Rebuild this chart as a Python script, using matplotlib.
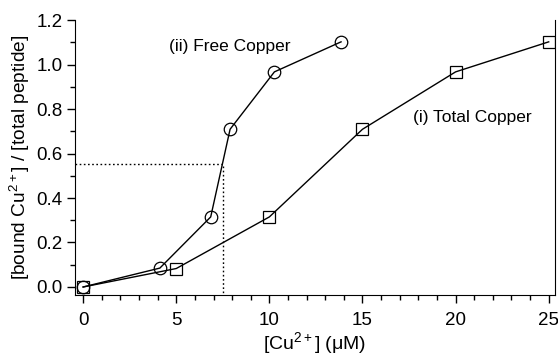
import matplotlib
matplotlib.use("Agg")
import matplotlib.pyplot as plt
from matplotlib.ticker import MultipleLocator, FormatStrFormatter

plt.rcParams['font.family'] = ['Liberation Sans', 'DejaVu Sans']
plt.rcParams['mathtext.fontset'] = 'custom'
plt.rcParams['mathtext.rm'] = 'Liberation Sans'
plt.rcParams['mathtext.it'] = 'Liberation Sans'

free_x = [0, 4.12, 6.85, 7.89, 10.27, 13.85]
free_y = [0, 0.085, 0.315, 0.709, 0.967, 1.102]
total_x = [0, 5, 10, 15, 20, 25]
total_y = [0, 0.083, 0.315, 0.709, 0.967, 1.102]
half_x = 7.5
half_y = 0.552

fig = plt.figure(figsize=(5.58, 3.58), dpi=100)
ax = fig.add_axes([0.134, 0.176, 0.861, 0.768])

ax.plot(free_x, free_y, color='black', lw=1, marker='o', ms=9, mfc='none', mec='black', mew=0.9)
ax.plot(total_x, total_y, color='black', lw=1, marker='s', ms=8.5, mfc='none', mec='black', mew=0.9)
ax.plot([-0.45, half_x, half_x], [half_y, half_y, -0.036], color='black', lw=1, ls=(0, (1.2, 1.8)))

ax.text(4.6, 1.083, '(ii) Free Copper', fontsize=12.5, va='center', ha='left')
ax.text(17.7, 0.763, '(i) Total Copper', fontsize=12.5, va='center', ha='left')

ax.set_xlim(-0.45, 25.35)
ax.set_ylim(-0.036, 1.2)
ax.spines['top'].set_visible(False)
ax.xaxis.set_major_locator(MultipleLocator(5))
ax.xaxis.set_minor_locator(MultipleLocator(1))
ax.yaxis.set_major_locator(MultipleLocator(0.2))
ax.yaxis.set_minor_locator(MultipleLocator(0.1))
ax.yaxis.set_major_formatter(FormatStrFormatter('%.1f'))
ax.tick_params(which='major', direction='out', length=6, width=1, labelsize=13.5)
ax.tick_params(which='minor', direction='out', length=3.6, width=1)
ax.tick_params(axis='x', which='major', pad=6)
ax.tick_params(axis='y', which='major', pad=3)
ax.tick_params(right=False, top=False)

ax.set_xlabel('[Cu$^{2+}$] (\u03bcM)', fontsize=14)
ax.xaxis.set_label_coords(0.5, -0.195, transform=ax.transAxes)
ax.xaxis.label.set_va('baseline')
ax.set_ylabel('[bound Cu$^{2+}$] / [total peptide]', fontsize=13.8)
ax.yaxis.set_label_coords(-0.088, 0.5)

fig.savefig('out.png', dpi=100)
